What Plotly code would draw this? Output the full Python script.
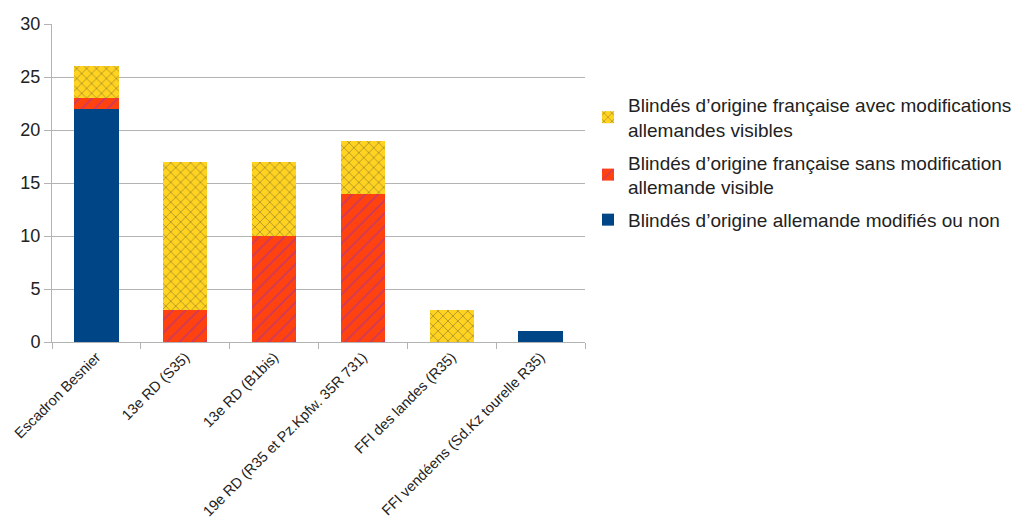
import plotly.graph_objects as go

# Unités et compositions
UNITES = [
    "Escadron Besnier",
    "13e RD (S35)",
    "13e RD (B1bis)",
    "19e RD (R35 et Pz.Kpfw. 35R 731)",
    "FFI des landes (R35)",
    "FFI vendéens (Sd.Kz tourelle R35)",
]
ORIGINE_ALLEMANDE = [22, 0, 0, 0, 0, 1]
FR_SANS_MODIF = [1, 3, 10, 14, 0, 0]
FR_AVEC_MODIF = [3, 14, 7, 5, 3, 0]

NOM_ALL = "Blindés d’origine allemande modifiés ou non"
NOM_SANS = "Blindés d’origine française sans modification<br>allemande visible"
NOM_AVEC = "Blindés d’origine française avec modifications<br>allemandes visibles"

fig = go.Figure()

fig.add_trace(go.Bar(
    x=UNITES, y=ORIGINE_ALLEMANDE, name=NOM_ALL, legendgroup="a", legendrank=3,
    marker=dict(color="#004586", line=dict(width=0)),
))
fig.add_trace(go.Bar(
    x=UNITES, y=FR_SANS_MODIF, name=NOM_SANS, legendgroup="b", legendrank=2,
    marker=dict(color="#ff420e", line=dict(width=0),
                pattern=dict(shape="/", fgcolor="#9b30b0", size=9, solidity=0.2)),
))
fig.add_trace(go.Bar(
    x=UNITES, y=FR_AVEC_MODIF, name=NOM_AVEC, legendgroup="c", legendrank=1,
    marker=dict(color="#ffd320", line=dict(width=0),
                pattern=dict(shape="x", fgcolor="#3a3a3a", size=7, solidity=0.2)),
))

# la page ajoute une marge de 8 px autour de la figure
fig.update_layout(
    barmode="stack",
    bargap=0.5,
    width=1022,
    height=522,
    paper_bgcolor="white",
    plot_bgcolor="white",
    font=dict(family="Liberation Sans, Arial, sans-serif", color="#222222"),
    margin=dict(l=44, r=445, t=16, b=188),
    showlegend=True,
    legend=dict(
        traceorder="grouped",
        xref="container", yref="container",
        x=580 / 1022, y=1 - 78 / 522,
        xanchor="left", yanchor="top",
        font=dict(size=19, color="#222222"),
        tracegroupgap=5,
        itemwidth=30,
        bgcolor="rgba(0,0,0,0)",
    ),
    xaxis=dict(
        automargin=False,
        tickangle=-45,
        tickfont=dict(size=14.5, color="#222222"),
        ticks="outside", tickson="boundaries", ticklen=6, tickcolor="#b3b3b3",
        showline=True, linecolor="#b3b3b3", linewidth=1,
        showgrid=False,
    ),
    yaxis=dict(
        automargin=False,
        range=[0, 30],
        dtick=5,
        tickfont=dict(size=18, color="#222222"),
        ticks="outside", ticklen=7, tickcolor="#b3b3b3",
        showline=True, linecolor="#b3b3b3", linewidth=1,
        gridcolor="#b3b3b3", gridwidth=1,
        zeroline=False,
    ),
)

fig.write_html("out.html")
